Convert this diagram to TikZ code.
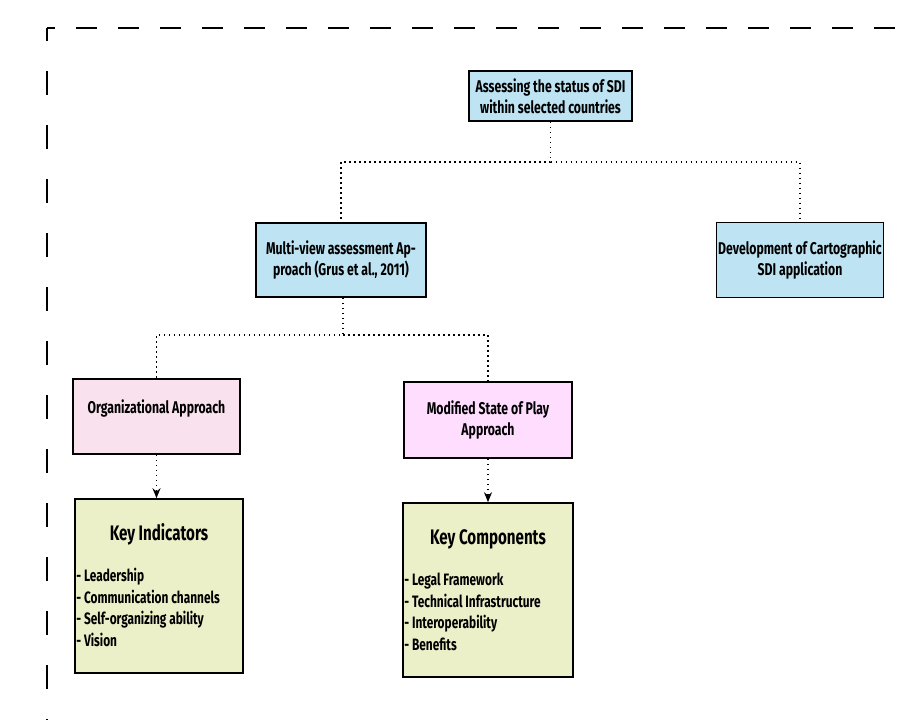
\documentclass[tikz,border=0pt]{standalone}
\usepackage{fontspec}
\setmainfont{Fira Sans}[FakeStretch=0.72]
\usetikzlibrary{arrows.meta,positioning,calc}

\definecolor{sdiblue}{RGB}{190,228,243}
\definecolor{orgpink}{RGB}{249,225,238}
\definecolor{soppink}{RGB}{255,221,255}
\definecolor{keygreen}{RGB}{235,240,200}

\tikzset{
  boxnode/.style={draw=black, line width=1.6pt, align=center, inner sep=0pt,
    font=\bfseries\fontsize{17}{20.5}\selectfont},
  keytitle/.style={inner sep=0pt, font=\bfseries\fontsize{21}{24}\selectfont},
  keylist/.style={inner sep=0pt, align=left, font=\bfseries\fontsize{16.5}{21.5}\selectfont},
  link/.style={line width=1.5pt, dash pattern=on 1.5pt off 3.5pt},
  linkarrow/.style={link, -{Stealth[length=10pt,width=8pt]}},
}

\begin{document}
\begin{tikzpicture}[x=1pt,y=1pt,yscale=-1]
  \useasboundingbox (0,0) rectangle (912,720);

  %Shape: Dashed frame
  \draw [line width=1.6pt, dash pattern=on 21pt off 21pt, dash phase=13pt] (47,28) -- (912,28) ;
  \draw [line width=1.6pt, dash pattern=on 24pt off 30pt, dash phase=11pt] (47,28) -- (47,720) ;

  %Shape: Rectangle
  \node [boxnode, fill=sdiblue, minimum width=163pt, minimum height=50pt] (sdi) at (550.5,96) {Assessing the status of SDI\\within selected countries};
  %Shape: Rectangle
  \node [boxnode, fill=sdiblue, minimum width=170pt, minimum height=74pt] (mva) at (341,260) {Multi-view assessment Ap-\\proach (Grus et al., 2011)};
  %Shape: Rectangle
  \node [boxnode, fill=sdiblue, minimum width=167pt, minimum height=75pt] (cart) at (800,260) {Development of Cartographic\\SDI application};
  %Shape: Rectangle
  \node [boxnode, fill=orgpink, minimum width=167pt, minimum height=75pt] (org) at (156.5,416.5) {Organizational Approach\\\mbox{}};
  %Shape: Rectangle
  \node [boxnode, fill=soppink, minimum width=168pt, minimum height=76pt] (sop) at (488,420) {Modified State of Play\\Approach};
  %Shape: Rectangle
  \node [draw=black, line width=1.6pt, fill=keygreen, minimum width=168pt, minimum height=174pt] (ki) at (159,586) {};
  %Shape: Rectangle
  \node [draw=black, line width=1.6pt, fill=keygreen, minimum width=170pt, minimum height=174pt] (kc) at (488,590) {};

  % Text Node
  \node [keytitle] (ki-title) at ($(ki.north)+(0,36)$) {Key Indicators};
  \node [keylist, anchor=north west] (ki-list) at ($(ki.north west)+(2,70)$) {- Leadership\\- Communication channels\\- Self-organizing ability\\- Vision};
  % Text Node
  \node [keytitle] (kc-title) at ($(kc.north)+(0,37)$) {Key Components};
  \node [keylist, anchor=north west] (kc-list) at ($(kc.north west)+(2,71)$) {- Legal Framework\\- Technical Infrastructure\\- Interoperability\\- Benefits};

  %Straight Lines
  \coordinate (fork1) at (550.5,162);
  \draw [link] (sdi.south) -- (fork1) -| (mva.north) ;
  \draw [link] (fork1) -| (cart.north) ;
  %Straight Lines
  \coordinate (fork2) at (343,335);
  \draw [link] (mva.south -| fork2) -- (fork2) -| (org.north) ;
  \draw [link] (fork2) -| (sop.north) ;
  %Arrows
  \draw [linkarrow] (org.south) -- (org.south |- ki.north) ;
  \draw [linkarrow] (sop.south) -- (kc.north) ;
\end{tikzpicture}
\end{document}
